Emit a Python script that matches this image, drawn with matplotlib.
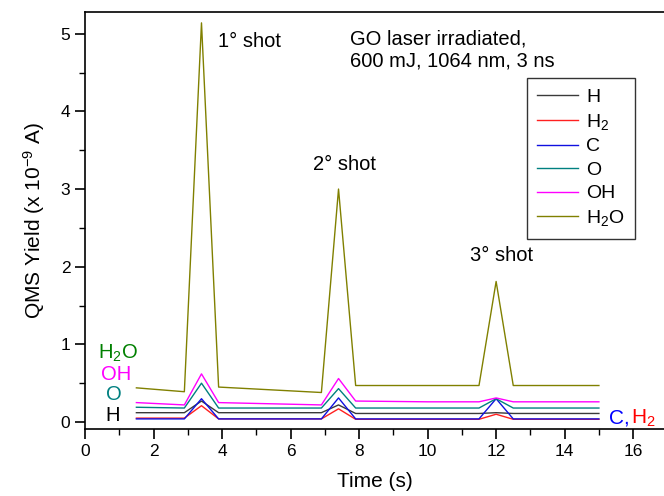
"""
GO 激光辐照 QMS 产额随时间变化曲线
"""

import matplotlib.pyplot as plt
from matplotlib.ticker import MultipleLocator

# 时间采样点 (s)
time_s = [1.5, 2.9, 3.4, 3.9, 6.9, 7.4, 7.9, 10.0, 11.5, 12.0, 12.5, 15.0]

# 各物种 QMS 产额 (x 1e-9 A)
yield_h = [0.12, 0.12, 0.27, 0.12, 0.12, 0.22, 0.11, 0.11, 0.11, 0.12, 0.11, 0.11]
yield_h2 = [0.05, 0.05, 0.21, 0.04, 0.04, 0.17, 0.035, 0.035, 0.035, 0.10, 0.035, 0.035]
yield_c = [0.04, 0.04, 0.30, 0.04, 0.04, 0.31, 0.04, 0.04, 0.04, 0.30, 0.04, 0.04]
yield_o = [0.19, 0.18, 0.50, 0.18, 0.18, 0.43, 0.18, 0.18, 0.18, 0.30, 0.18, 0.18]
yield_oh = [0.25, 0.22, 0.62, 0.25, 0.22, 0.56, 0.27, 0.26, 0.26, 0.31, 0.26, 0.26]
yield_h2o = [0.44, 0.39, 5.14, 0.45, 0.38, 3.00, 0.47, 0.47, 0.47, 1.81, 0.47, 0.47]

species = ["H", "H$_2$", "C", "O", "OH", "H$_2$O"]
colors = ["#3a3a3a", "#ff2020", "#1010e0", "#008080", "#ff00ff", "#808000"]

shot_labels = ["1° shot", "2° shot", "3° shot"]
shot_pos = [(3.88, 4.9), (6.65, 3.31), (11.23, 2.15)]

# 左侧物种标注 (文字, 颜色, x, y)
side_labels = ["H$_2$O", "OH", "O", "H"]
side_colors = ["#008000", "#ff00ff", "#008080", "black"]
side_x = [0.95, 0.9, 0.85, 0.8]
side_y = [0.89, 0.615, 0.35, 0.085]

plt.rcParams["font.family"] = ["Liberation Sans", "DejaVu Sans"]
plt.rcParams["mathtext.fontset"] = "custom"
plt.rcParams["mathtext.rm"] = "Liberation Sans"
plt.rcParams["mathtext.it"] = "Liberation Sans:italic"


def main() -> None:
    fig = plt.figure(figsize=(6.64, 4.96), dpi=100)
    ax = fig.add_axes([85 / 664, 67 / 496, 579 / 664, 417 / 496])

    series = [yield_h, yield_h2, yield_c, yield_o, yield_oh, yield_h2o]
    for vals, name, color in zip(series, species, colors):
        ax.plot(time_s, vals, color=color, lw=1.0, label=name)

    ax.set_xlim(0, 16.9)
    ax.set_ylim(-0.09, 5.28)
    ax.xaxis.set_major_locator(MultipleLocator(2))
    ax.xaxis.set_minor_locator(MultipleLocator(1))
    ax.yaxis.set_major_locator(MultipleLocator(1))
    ax.yaxis.set_minor_locator(MultipleLocator(0.5))
    ax.tick_params(which="major", direction="out", length=7, width=1.2, labelsize=12.5)
    ax.tick_params(which="minor", direction="out", length=4, width=1.0)
    ax.spines["right"].set_visible(False)
    for side in ("left", "bottom", "top"):
        ax.spines[side].set_linewidth(1.2)

    ax.set_xlabel("Time (s)", fontsize=15, labelpad=10)
    ax.set_ylabel("QMS Yield (x 10$^{-9}$ A)", fontsize=15, labelpad=10)

    for label, (x, y) in zip(shot_labels, shot_pos):
        ax.text(x, y, label, fontsize=14.5, va="center", ha="left")

    ax.text(7.73, 4.79, "GO laser irradiated,\n600 mJ, 1064 nm, 3 ns",
            fontsize=14.5, va="center", ha="left", linespacing=1.2)

    for label, color, x, y in zip(side_labels, side_colors, side_x, side_y):
        ax.text(x, y, label, color=color, fontsize=14.5, ha="center", va="center")

    # 右下角 C, H2 标注
    ax.text(15.3, 0.05, "C,", color="#0000ff", fontsize=15, ha="left", va="center")
    ax.text(15.95, 0.05, "H$_2$", color="#ff0000", fontsize=15, ha="left", va="center")

    leg = ax.legend(loc="upper left", bbox_to_anchor=(0.763, 0.842), borderaxespad=0,
                    fontsize=14, frameon=True, fancybox=False, handlelength=2.1,
                    handletextpad=0.4, labelspacing=0.3, borderpad=0.55)
    leg.get_frame().set_edgecolor("black")
    leg.get_frame().set_linewidth(1.0)

    fig.savefig("out.png", dpi=100)


if __name__ == "__main__":
    main()
